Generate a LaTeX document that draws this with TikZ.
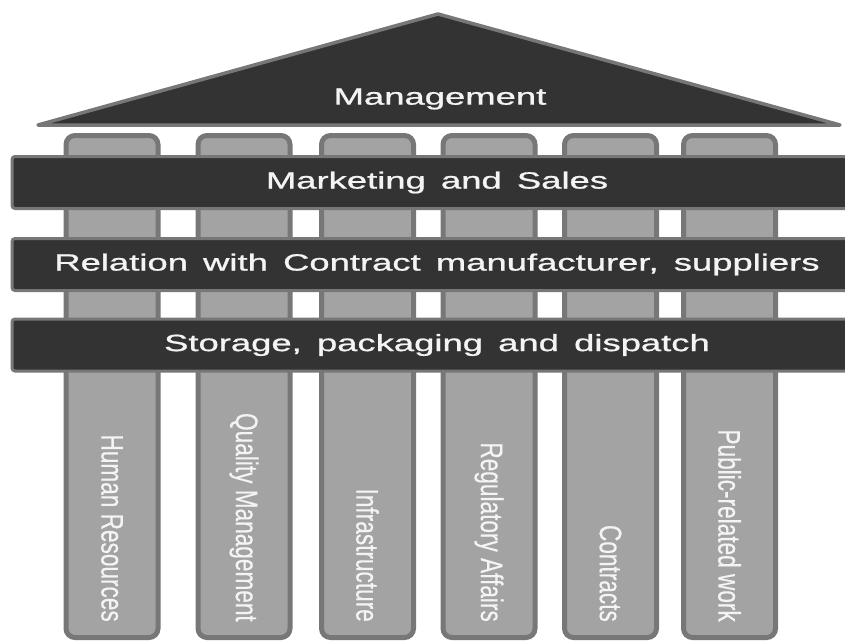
\documentclass[tikz,border=0pt]{standalone}
\usepackage{graphicx}
\usepackage{fontspec}
\setmainfont{Liberation Sans}
\newfontfamily\barfont[WordSpace=1.5,FakeBold=0.8]{Liberation Sans}
\newfontfamily\colfont[FakeBold=0.5]{Liberation Sans}
\definecolor{slate}{HTML}{333333}
\definecolor{rim}{HTML}{777777}
\definecolor{column}{HTML}{A3A3A3}
\definecolor{ink}{HTML}{F4F4F4}
% wide lettering for the roof and the cross beams
\newcommand{\beamtext}[1]{\scalebox{1.55}[1]{\barfont\fontsize{23.5}{28}\selectfont #1}}
% narrow lettering running down the columns
\newcommand{\columntext}[1]{\scalebox{0.87}[1.2]{\colfont\fontsize{26}{30}\selectfont #1}}
\begin{document}
\begin{tikzpicture}[x=1pt,y=-1pt,
  roof/.style={fill=slate, draw=rim, line width=3.5pt, line join=round},
  pillar/.style={draw=rim, fill=column, line width=5pt, rounded corners=9pt,
    minimum width=92pt, minimum height=502pt, inner sep=0pt},
  beam/.style={draw=rim, fill=slate, line width=3pt, rounded corners=3pt,
    minimum width=850pt, minimum height=52pt, inner sep=0pt, text=ink},
  plabel/.style={rotate=-90, anchor=east, inner sep=0pt, text=ink},
  rlabel/.style={inner sep=0pt, text=ink}]
\useasboundingbox (0,0) rectangle (845,642);
\clip (0,0) rectangle (845,642);

% roof
\draw[roof] (38,125) -- (438,14) -- (840,125) -- cycle;
\node[rlabel] (mgmt) at (440,99) {\beamtext{Management}};

% columns
\node[pillar] (p1) at (112,386.5) {};
\node[pillar] (p2) at (244,386.5) {};
\node[pillar] (p3) at (367.5,386.5) {};
\node[pillar] (p4) at (489,386.5) {};
\node[pillar] (p5) at (610.5,386.5) {};
\node[pillar] (p6) at (729.5,386.5) {};

\node[plabel] (t1) at (112,622) {\columntext{Human Resources}};
\node[plabel] (t2) at (244,622) {\columntext{Quality Management}};
\node[plabel] (t3) at (367.5,622) {\columntext{Infrastructure}};
\node[plabel] (t4) at (489,622) {\columntext{Regulatory Affairs}};
\node[plabel] (t5) at (610.5,622) {\columntext{Contracts}};
\node[plabel] (t6) at (729.5,622) {\columntext{Public-related work}};

% cross beams
\node[beam] (b1) at (437,182.5) {\beamtext{Marketing and Sales}};
\node[beam] (b2) at (437,264.5) {\beamtext{Relation with Contract manufacturer, suppliers}};
\node[beam] (b3) at (437,345) {\beamtext{Storage, packaging and dispatch}};
\end{tikzpicture}
\end{document}
